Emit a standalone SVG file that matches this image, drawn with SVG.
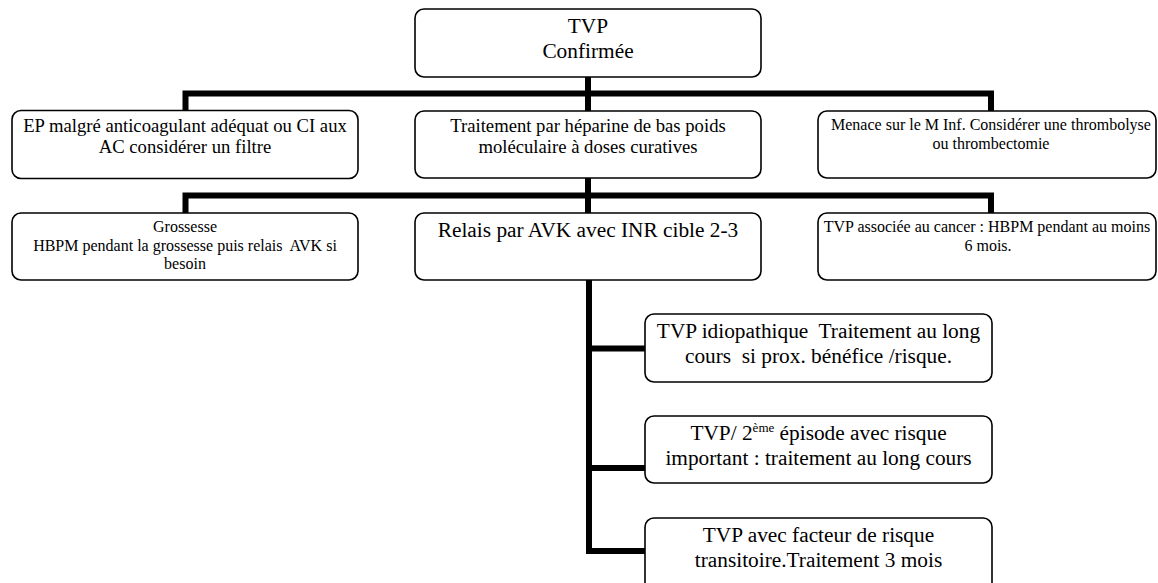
<svg xmlns="http://www.w3.org/2000/svg" width="1158" height="583" viewBox="0 0 1158 583">
<style>
.box{fill:#fff;stroke:#000;stroke-width:1.6}
.con{fill:none;stroke:#000;stroke-width:6;stroke-linejoin:miter;stroke-linecap:butt}
text{font-family:"Liberation Serif","Times New Roman",serif;fill:#000;text-anchor:middle}
.f16{font-size:21.33px}
.f14{font-size:18.67px}
.f12{font-size:16px}
</style>
<rect width="1158" height="583" fill="#fff"/>
<g id="connectors">
<path class="con" d="M588,77 V111"/>
<path class="con" d="M185.5,110 V93.5 H991 V111"/>
<path class="con" d="M588,178 V213"/>
<path class="con" d="M185.5,213 V195.5 H991 V213"/>
<path class="con" d="M589,280 V551 H645"/>
<path class="con" d="M589,348.5 H645"/>
<path class="con" d="M589,468 H645"/>
</g>
<g id="n-top">
<rect class="box" x="415" y="9" width="346" height="68" rx="9"/>
<text class="f16" x="588" y="33">TVP</text>
<text class="f16" x="588" y="57.5">Confirmée</text>
</g>
<g id="n-ep">
<rect class="box" x="12" y="110.5" width="346" height="68" rx="9"/>
<text class="f14" x="185" y="131.5">EP malgré anticoagulant adéquat ou CI aux</text>
<text class="f14" x="185" y="153">AC considérer un filtre</text>
</g>
<g id="n-hbpm">
<rect class="box" x="415" y="111" width="346" height="67" rx="9"/>
<text class="f14" x="588" y="131.5">Traitement par héparine de bas poids</text>
<text class="f14" x="588" y="153">moléculaire à doses curatives</text>
</g>
<g id="n-menace">
<rect class="box" x="818" y="111" width="338" height="67" rx="9"/>
<text class="f12" x="991" y="130">Menace sur le M Inf. Considérer une thrombolyse</text>
<text class="f12" x="991" y="148.5">ou thrombectomie</text>
</g>
<g id="n-grossesse">
<rect class="box" x="12" y="213" width="346" height="67" rx="9"/>
<text class="f12" x="185" y="232">Grossesse</text>
<text class="f12" x="185" y="250.5" xml:space="preserve">HBPM pendant la grossesse puis relais  AVK si</text>
<text class="f12" x="185" y="269">besoin</text>
</g>
<g id="n-avk">
<rect class="box" x="415" y="213" width="346" height="67" rx="9"/>
<text class="f16" x="588" y="237">Relais par AVK avec INR cible 2-3</text>
</g>
<g id="n-cancer">
<rect class="box" x="818" y="213" width="338" height="67" rx="9"/>
<text class="f12" x="987" y="232">TVP associée au cancer : HBPM pendant au moins</text>
<text class="f12" x="988" y="250.5">6 mois.</text>
</g>
<g id="n-idio">
<rect class="box" x="645" y="314" width="347" height="68" rx="9"/>
<text class="f16" x="818.5" y="338" xml:space="preserve">TVP idiopathique  Traitement au long</text>
<text class="f16" x="818.5" y="362.5" xml:space="preserve">cours  si prox. bénéfice /risque.</text>
</g>
<g id="n-episode">
<rect class="box" x="645" y="416" width="347" height="67" rx="9"/>
<text class="f16" x="818.5" y="440">TVP/ 2<tspan font-size="13" dy="-8">ème</tspan><tspan dy="8"> épisode avec risque</tspan></text>
<text class="f16" x="818.5" y="464.5">important : traitement au long cours</text>
</g>
<g id="n-transitoire">
<rect class="box" x="645" y="518" width="347" height="80" rx="9"/>
<text class="f16" x="818.5" y="542">TVP avec facteur de risque</text>
<text class="f16" x="818.5" y="566.5">transitoire.Traitement 3 mois</text>
</g>
</svg>
